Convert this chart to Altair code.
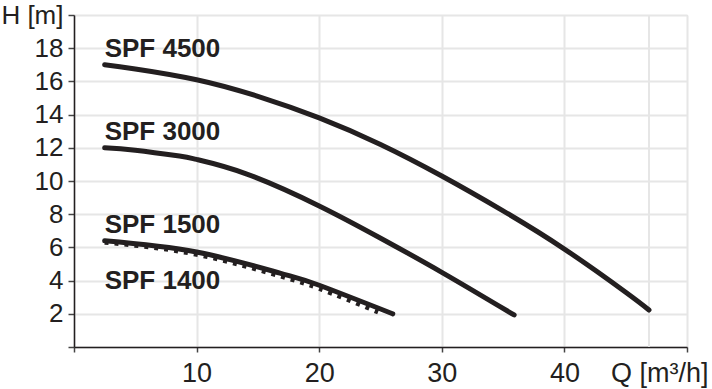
import altair as alt
import pandas as pd

# Pump curves (Q in m3/h, H in m)
q4500 = [2.5, 5, 10, 15, 20, 25, 30, 35, 40, 45, 46.9]
h4500 = [17.0, 16.75, 16.1, 15.1, 13.8, 12.2, 10.3, 8.2, 5.9, 3.3, 2.23]

q3000 = [2.5, 5, 8.6, 10, 14.1, 20, 24.9, 30, 35.9]
h3000 = [12.0, 11.85, 11.5, 11.3, 10.42, 8.5, 6.6, 4.5, 1.93]

q1500 = [2.5, 10, 16.8, 20, 26.0]
h1500 = [6.4, 5.72, 4.45, 3.72, 2.0]

q1400 = [2.5, 10, 16.8, 20, 24.8]
h1400 = [6.3, 5.57, 4.27, 3.52, 2.1]

label_names = ["SPF 4500", "SPF 3000", "SPF 1500", "SPF 1400"]
label_q = [2.5, 2.5, 2.5, 2.5]
label_h = [17.5, 12.5, 6.88, 3.5]

x_ticks = [0, 10, 20, 30, 40, 50]
y_ticks = [0, 2, 4, 6, 8, 10, 12, 14, 16, 18, 20]
extra_grid_q = [46.9]

FONT = "Liberation Sans, Arial, sans-serif"
INK = "#231f20"
GRID = "#e6e6e6"

solid = pd.concat([
    pd.DataFrame({"Q": q4500, "H": h4500, "series": "SPF 4500"}),
    pd.DataFrame({"Q": q3000, "H": h3000, "series": "SPF 3000"}),
    pd.DataFrame({"Q": q1500, "H": h1500, "series": "SPF 1500"}),
])
dotted = pd.DataFrame({"Q": q1400, "H": h1400, "series": "SPF 1400"})
labels = pd.DataFrame({"Q": label_q, "H": label_h, "name": label_names})

xscale = alt.Scale(domain=[0, 50], nice=False, zero=False)
yscale = alt.Scale(domain=[0, 20], nice=False, zero=False)

xaxis = alt.Axis(
    values=x_ticks,
    labelExpr="datum.value == 50 ? 'Q [m³/h]' : (datum.value == 0 ? '' : datum.label)",
    labelFlush=True, labelFlushOffset=21, labelOverlap=False, labelBound=False,
    grid=True, gridColor=GRID, gridWidth=2,
    tickSize=5, tickColor="#444", tickWidth=1.5,
    domainColor=INK, domainWidth=1.5,
    labelFont=FONT, labelFontSize=27, labelColor=INK, labelPadding=8,
    title=None,
)
yaxis = alt.Axis(
    values=y_ticks,
    labelExpr="datum.value == 20 ? 'H [m]' : (datum.value == 0 ? '' : datum.label)",
    labelOverlap=False, labelBound=False, labelFlush=False,
    grid=True, gridColor=GRID, gridWidth=2,
    tickSize=6, tickColor="#444", tickWidth=1.5,
    domainColor=INK, domainWidth=1.5,
    labelFont=FONT, labelFontSize=26, labelColor=INK, labelPadding=5,
    title=None,
)

grid_extra = alt.Chart(pd.DataFrame({"Q": extra_grid_q})).mark_rule(
    color=GRID, strokeWidth=2
).encode(x=alt.X("Q:Q", scale=xscale, axis=xaxis))

dot_layer = alt.Chart(dotted).mark_line(
    color=INK, strokeWidth=4.5, strokeDash=[4, 6], interpolate="natural"
).encode(
    x=alt.X("Q:Q", scale=xscale, axis=xaxis),
    y=alt.Y("H:Q", scale=yscale, axis=yaxis),
)

solid_layer = alt.Chart(solid).mark_line(
    color=INK, strokeWidth=5, interpolate="natural", strokeCap="round"
).encode(
    x=alt.X("Q:Q", scale=xscale, axis=xaxis),
    y=alt.Y("H:Q", scale=yscale, axis=yaxis),
    detail="series:N",
)

text_layer = alt.Chart(labels).mark_text(
    align="left", baseline="alphabetic", font=FONT, fontWeight="bold",
    fontSize=26, color=INK
).encode(
    x=alt.X("Q:Q", scale=xscale, axis=xaxis),
    y=alt.Y("H:Q", scale=yscale, axis=yaxis),
    text="name:N",
)

chart = alt.layer(grid_extra, dot_layer, solid_layer, text_layer).properties(
    width=613, height=332,
    autosize=alt.AutoSizeParams(type="none"),
    padding={"left": 74, "top": 15, "right": 25, "bottom": 42},
).configure_view(stroke=None).configure(background="white")

chart.save("out.html", embed_options={"renderer": "svg", "actions": False})
